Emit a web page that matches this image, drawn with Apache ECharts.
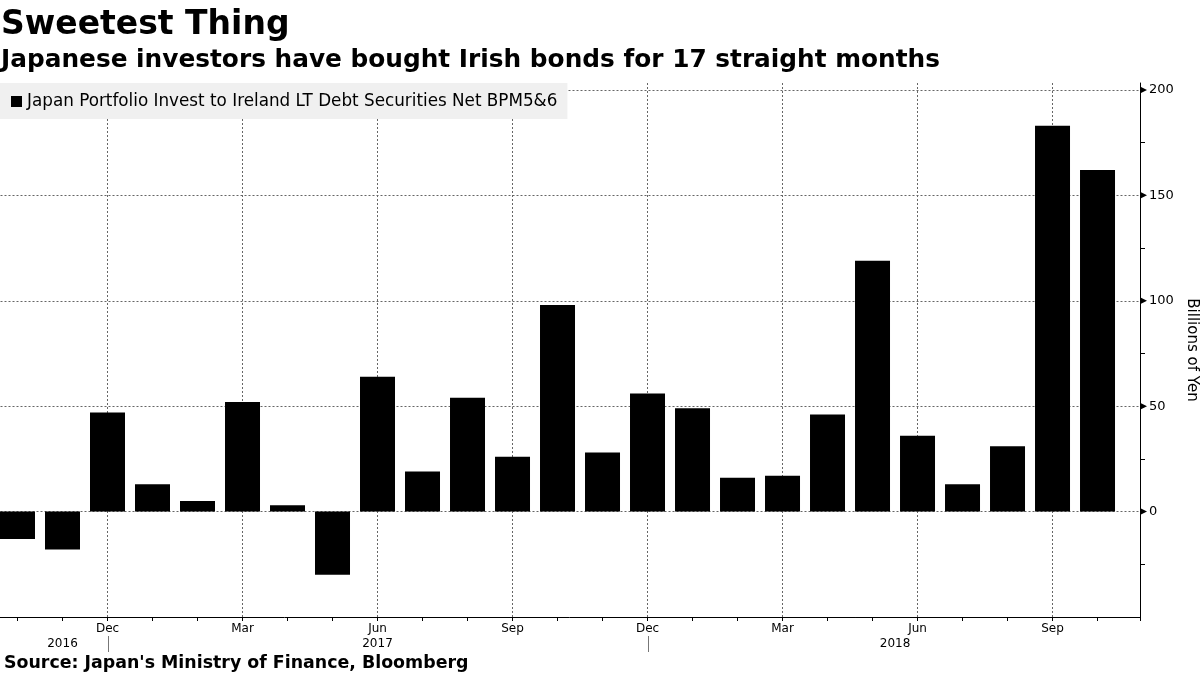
<!DOCTYPE html>
<html>
<head>
<meta charset="utf-8">
<script src="https://cdn.jsdelivr.net/npm/echarts@6/dist/echarts.min.js"></script>
<style>html,body{margin:0;padding:0;background:#fff}#c{width:1200px;height:675px}</style>
</head>
<body>
<div id="c"></div>
<script>
// Months Oct 2016 .. Oct 2018
const months = ['Oct','Nov','Dec','Jan','Feb','Mar','Apr','May','Jun','Jul','Aug','Sep',
                'Oct','Nov','Dec','Jan','Feb','Mar','Apr','May','Jun','Jul','Aug','Sep','Oct'];
const values = [-13,-18,47,13,5,52,3,-30,64,19,54,26,98,28,56,49,16,17,46,119,36,13,31,183,162];
const labelledMonths = ['Dec','Mar','Jun','Sep'];
const yearLabels = [{year:'2016', at:1}, {year:'2017', at:8}, {year:'2018', at:19.5}];
const yearSeparators = [2, 14];
const seriesName = 'Japan Portfolio Invest to Ireland LT Debt Securities Net BPM5&6';
const yTicks = [0, 50, 100, 150, 200];

const chart = echarts.init(document.getElementById('c'));
const barData = values.map((v, i) => [i, v]);
const gridX = months.map((m, i) => i).filter(i => labelledMonths.includes(months[i]));

const AX = '#000';
const FONT = 'DejaVu Sans';

chart.setOption({
  animation: false,
  backgroundColor: '#fff',
  title: [
    {text: 'Sweetest Thing', left: 1, top: 9, padding: 0,
     textStyle: {fontFamily: 'DejaVu Sans', fontWeight: 'bold', fontSize: 33, color: '#000'}},
    {text: 'Japanese investors have bought Irish bonds for 17 straight months', left: 1, top: 48, padding: 0,
     textStyle: {fontFamily: 'DejaVu Sans', fontWeight: 'bold', fontSize: 24.8, color: '#000'}},
    {text: "Source: Japan's Ministry of Finance, Bloomberg", left: 4, top: 655, padding: 0,
     textStyle: {fontFamily: 'DejaVu Sans', fontWeight: 'bold', fontSize: 17.4, color: '#000'}}
  ],
  legend: {
    left: 0, top: 83, orient: 'horizontal',
    backgroundColor: '#f0f0f0', padding: [10, 10, 9, 11],
    itemWidth: 11, itemHeight: 11, itemGap: 5,
    icon: 'rect',
    textStyle: {fontFamily: FONT, fontSize: 16.8, color: '#000'},
    data: [seriesName]
  },
  grid: {left: -27.5, right: 60, top: 83, bottom: 58, outerBoundsMode: 'none', containLabel: false},
  xAxis: [{
    type: 'value', min: -1, max: 24.944, interval: 1,
    axisLine: {show: true, onZero: false, lineStyle: {color: AX, width: 1}},
    axisTick: {show: true, inside: false, length: 4, lineStyle: {color: AX}},
    axisLabel: {
      show: true, margin: 6, fontFamily: FONT, fontSize: 12, color: '#000',
      showMinLabel: true, showMaxLabel: true,
      formatter: v => (Number.isInteger(v) && v >= 0 && v < months.length && labelledMonths.includes(months[v])) ? months[v] : ''
    },
    splitLine: {show: false}
  }],
  yAxis: [{
    type: 'value', position: 'right', min: -50, max: 203.3, interval: 50,
    name: 'Billions of Yen', nameLocation: 'middle', nameRotate: -90, nameGap: 42,
    nameTextStyle: {fontFamily: FONT, fontSize: 15, color: '#000'},
    axisLine: {show: true, onZero: false, lineStyle: {color: AX, width: 1}},
    axisTick: {show: false},
    minorTick: {show: true, splitNumber: 2, length: 5, lineStyle: {color: AX}},
    axisLabel: {
      margin: 9, fontFamily: FONT, fontSize: 13, color: '#000',
      showMinLabel: false, showMaxLabel: false,
      formatter: v => yTicks.includes(v) ? String(v) : ''
    },
    splitLine: {show: true, showMinLine: false, showMaxLine: false,
                lineStyle: {color: '#666', type: [2, 2], width: 1}}
  }],
  series: [{
    name: seriesName, type: 'bar', data: barData, barWidth: 35,
    itemStyle: {color: '#000'},
    z: 3,
    markLine: {
      silent: true, symbol: 'none', label: {show: false},
      lineStyle: {color: '#666', type: [2, 2], width: 1},
      data: gridX.map(i => ({xAxis: i})),
      z: 1
    }
  }]
});

// Year labels, year separators and major y-tick markers placed through the chart's own coordinate conversion
const yBottom = chart.convertToPixel({yAxisIndex: 0}, -50);
const axisX = chart.convertToPixel({xAxisIndex: 0}, 24.944);
const elements = [];
yearSeparators.forEach(i => {
  const x = Math.round(chart.convertToPixel({xAxisIndex: 0}, i)) + 0.5;
  elements.push({type: 'line', shape: {x1: x, y1: yBottom + 19, x2: x, y2: yBottom + 35},
                 style: {stroke: '#777', lineWidth: 1}, silent: true});
});
yearLabels.forEach(y => {
  const x = chart.convertToPixel({xAxisIndex: 0}, y.at);
  elements.push({type: 'text', x: x, y: yBottom + 27,
                 style: {text: y.year, font: '12px "DejaVu Sans"', fill: '#000',
                         align: 'center', verticalAlign: 'middle'}, silent: true});
});
yTicks.forEach(v => {
  const y = chart.convertToPixel({yAxisIndex: 0}, v);
  elements.push({type: 'polygon', shape: {points: [[axisX, y - 3.5], [axisX, y + 3.5], [axisX + 7, y]]},
                 style: {fill: '#000'}, silent: true});
});
chart.setOption({graphic: elements});
</script>
</body>
</html>
